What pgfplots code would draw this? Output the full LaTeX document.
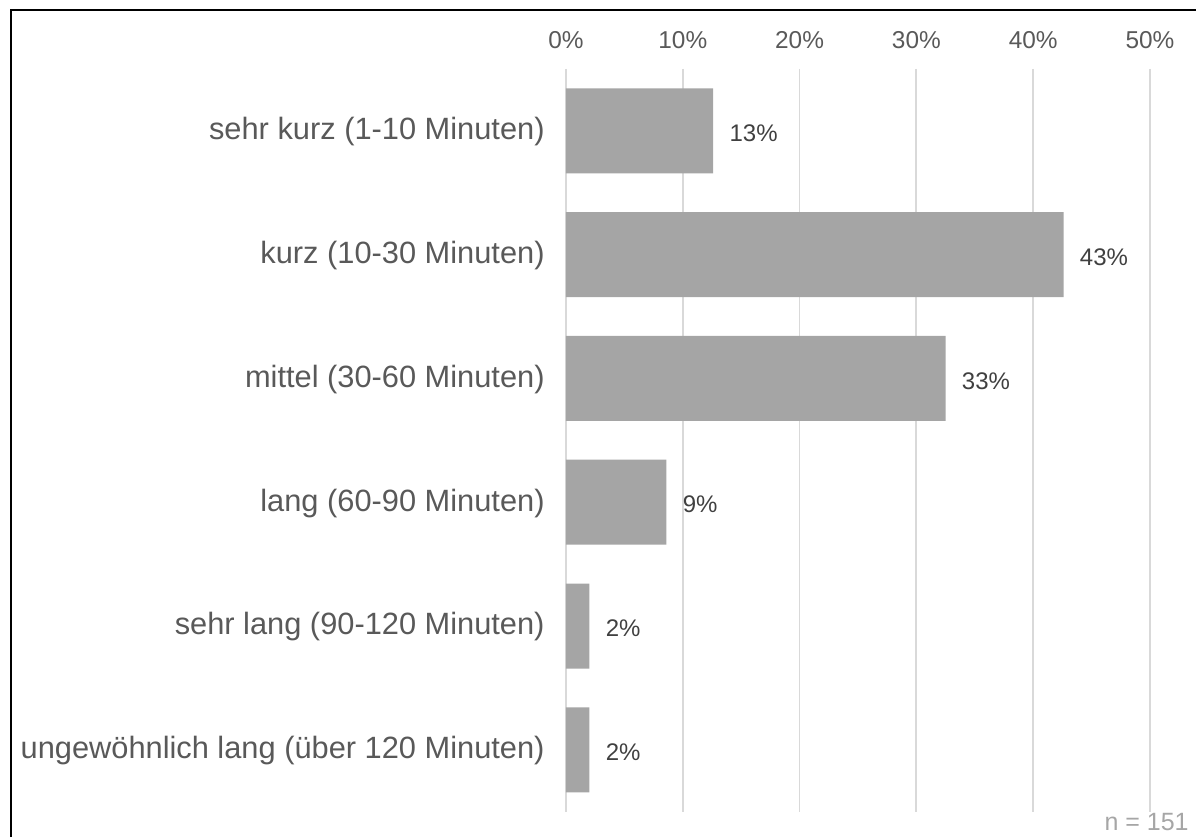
\documentclass[border=0pt]{standalone}
\usepackage{pgfplots}
\pgfplotsset{compat=1.18}
\usepackage{fontspec}
\setmainfont{Liberation Sans}

\definecolor{barfill}{HTML}{A5A5A5}
\definecolor{gridgray}{HTML}{D9D9D9}
\definecolor{ticktext}{HTML}{595959}
\definecolor{labeltext}{HTML}{404040}
\definecolor{notetext}{HTML}{A6A6A6}

% Share of responses per duration class (percent)
\pgfplotstableread{
idx value
0 12.6
1 42.6
2 32.5
3 8.6
4 2.0
5 2.0
}\durations

\begin{document}
\begin{tikzpicture}
\useasboundingbox (0,0) rectangle (598pt,-418.5pt);
% outer frame (runs off the right and bottom edges)
\draw[black, line width=0.65pt] (5.5pt,-418.5pt) -- (5.5pt,-5pt) -- (598pt,-5pt);

\begin{axis}[
  at={(283pt,-34.45pt)}, anchor=north west,
  scale only axis,
  width=292pt, height=371.4pt,
  xmin=0, xmax=50,
  ymin=-0.5, ymax=5.5,
  y dir=reverse,
  xbar,
  bar width=42.5pt,
  axis line style={draw=none},
  major tick length=0pt,
  xtick={0,10,20,30,40,50},
  xticklabel pos=right,
  xticklabel={\pgfmathprintnumber{\tick}\%},
  xticklabel style={anchor=base, inner sep=0pt, yshift=10.2pt,
    font=\fontsize{12.2}{14}\selectfont, text=ticktext},
  /pgf/number format/assume math mode=true,
  xmajorgrids,
  major grid style={gridgray, line width=0.9pt},
  ytick={0,1,2,3,4,5},
  yticklabels={
    sehr kurz (1-10 Minuten),
    kurz (10-30 Minuten),
    mittel (30-60 Minuten),
    lang (60-90 Minuten),
    sehr lang (90-120 Minuten),
    ungewöhnlich lang (über 120 Minuten)},
  yticklabel style={anchor=east, inner sep=0pt, xshift=-10.5pt, yshift=-0.5pt,
    font=\fontsize{15.4}{18}\selectfont, text=ticktext},
  point meta=x,
  nodes near coords={\pgfmathprintnumber[fixed,precision=0]{\pgfplotspointmeta}\%},
  every node near coord/.append style={anchor=west, inner sep=0pt, xshift=8pt,
    yshift=-1.2pt, font=\fontsize{12}{14}\selectfont, text=labeltext},
]
\addplot[fill=barfill, draw=none] table[x=value, y=idx] {\durations};
\end{axis}

\node[anchor=base east, inner sep=0pt, text=notetext,
  font=\fontsize{12.5}{15}\selectfont] at (594.5pt,-415.35pt) {n = 151};
\end{tikzpicture}
\end{document}
